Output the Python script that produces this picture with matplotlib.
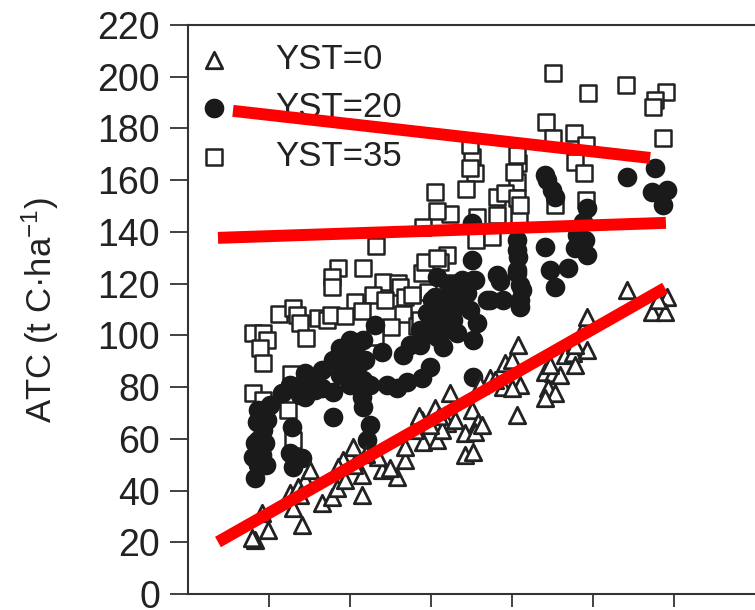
import matplotlib
matplotlib.use('Agg')
import matplotlib.pyplot as plt

plt.rcParams['font.family'] = ['Liberation Sans', 'DejaVu Sans']
plt.rcParams['mathtext.default'] = 'regular'

# YST=0
tri_x = [16.5, 15.8, 19.8, 18.3, 28.1, 25.9, 25.2, 28.9, 27.2, 33.1, 35.6, 36.8, 43.0, 43.0, 38.3, 40.7,
	37.0, 47.9, 51.6, 49.9, 53.6, 53.6, 46.9, 58.0, 61.5, 57.8, 61.0, 64.7, 64.0, 62.7, 68.4, 68.4,
	70.4, 70.1, 71.6, 70.9, 74.6, 78.3, 80.0, 81.5, 77.8, 82.0, 80.0, 81.2, 88.1, 90.1, 88.9, 90.6,
	88.1, 93.1, 95.1, 98.5, 95.6, 98.0, 98.5, 108.4, 118.3, 114.6, 117.8, 116.0,
	27.7, 30.0, 38.8, 41.0, 44.0, 56.0, 59.8, 65.9, 62.0, 57.0, 72.6, 72.0, 75.8, 95.6, 91.9, 89.4]
tri_y = [20.9, 21.7, 24.7, 31.3, 26.7, 33.3, 39.1, 44.1, 41.4, 35.2, 37.5, 41.0, 38.3, 46.0, 51.8, 56.8,
	49.1, 48.0, 45.2, 48.7, 51.8, 56.8, 53.0, 58.8, 59.6, 67.3, 71.9, 77.7, 66.1, 63.4, 62.3, 53.8,
	54.9, 71.2, 66.5, 62.6, 83.5, 89.3, 90.5, 96.3, 80.0, 80.8, 79.7, 69.2, 85.8, 85.5, 79.7, 77.7,
	75.8, 92.4, 93.2, 94.4, 88.6, 104.0, 107.1, 117.6, 114.8, 109.0, 109.0, 113.7,
	38.3, 48.0, 44.0, 50.0, 54.0, 63.4, 65.4, 67.3, 69.0, 69.0, 65.4, 80.8, 82.8, 96.3, 84.7, 88.6]

# YST=20
cir_x = [18.5, 19.5, 17.0, 18.5, 16.5, 19.0, 16.0, 18.3, 16.5, 25.7, 25.2, 28.1, 25.9, 35.8, 28.9, 23.2,
	25.9, 28.9, 33.1, 35.8, 35.8, 37.5, 42.5, 39.3, 43.2, 43.0, 43.2, 44.9, 44.2, 46.2, 43.2, 47.9,
	51.6, 49.1, 53.1, 57.3, 54.1, 57.8, 59.8, 63.0, 59.8, 63.0, 61.5, 61.5, 70.1, 81.2, 76.3,
	81.2, 70.4, 64.7, 68.9, 59.0, 62.2, 65.4, 69.6, 73.8, 77.8, 82.0, 82.5, 71.4, 70.4,
	66.4, 70.4, 70.1, 88.1, 89.9, 90.6, 88.6, 98.5, 97.5, 96.0, 98.0, 98.5, 95.6, 88.1, 93.8, 89.4,
	90.6, 108.4, 115.3, 114.6, 118.3, 117.3, 81.2, 81.5, 81.2, 70.9, 82.0, 74.6, 61.0, 64.7, 67.2,
	63.5, 57.3, 38.8, 41.2, 27.7, 31.4,
	62.2, 59.8, 54.8, 40.0, 41.2, 40.0, 43.7, 44.9, 65.9, 77.0, 82.0, 64.7, 67.7,
	60.2, 20.2, 17.3, 17.3, 17.3, 19.3, 31.4, 27.7, 25.2, 33.1, 37.5]
cir_y = [71.2, 67.3, 66.5, 63.4, 58.4, 58.4, 53.0, 53.8, 44.9, 64.6, 54.5, 52.6, 49.1, 68.4, 85.5, 77.7,
	79.7, 76.2, 79.7, 78.1, 90.5, 95.1, 89.3, 85.5, 82.8, 76.2, 72.3, 65.4, 59.6, 104.0, 98.2, 93.6,
	79.7, 80.8, 92.4, 96.3, 82.0, 83.5, 87.8, 95.5, 107.1, 104.8, 99.4, 122.6, 129.2, 133.0, 123.4,
	125.3, 121.4, 114.8, 116.4, 108.7, 108.7, 106.0, 109.8, 113.7, 113.7, 111.0, 117.6, 104.8, 98.2,
	100.9, 83.9, 143.5, 162.0, 156.2, 153.5, 160.1, 149.3, 143.9, 138.8, 136.9, 131.1, 133.8, 134.2, 126.1, 125.3,
	118.7, 161.3, 164.7, 155.5, 156.2, 150.4, 136.9, 130.3, 124.1, 121.4, 113.7, 113.7, 114.8, 109.8, 111.8,
	102.0, 102.0, 90.5, 84.7, 80.8, 82.8,
	113.7, 102.0, 96.3, 98.2, 94.4, 80.8, 90.5, 80.8, 113.7, 121.0, 119.5, 119.5, 121.4,
	113.7, 73.0, 71.0, 59.6, 49.9, 49.9, 78.9, 77.0, 80.8, 86.6, 84.7]

# YST=35
sqr_x = [90.1, 98.8, 108.1, 118.0, 115.3, 114.8, 117.3, 88.4, 90.1, 95.3, 98.3, 95.6, 97.8, 90.6, 98.3, 70.1,
	69.6, 70.9, 68.6, 81.5, 81.2, 81.2, 76.3, 78.3, 81.2, 81.7, 64.7, 71.4, 71.1, 75.1, 64.0, 62.2,
	64.2, 61.0, 61.5, 58.0, 46.4, 37.0, 35.6, 35.6, 43.2, 57.8, 48.1, 51.9, 52.3, 45.7, 53.6, 41.2,
	43.0, 53.1, 22.5, 25.9, 26.9, 27.7, 29.1, 32.1, 34.3, 35.3, 38.8, 16.0, 18.5, 19.5, 17.8, 18.5,
	25.4, 16.0, 18.5, 24.7, 25.9, 50.1, 56.5, 46.2, 59.3,
	48.6, 55.3, 58.5, 61.5, 57.3, 80.5, 69.6, 76.3, 82.0]
sqr_y = [201.5, 193.7, 196.8, 194.1, 191.0, 188.3, 176.3, 182.5, 176.3, 178.3, 173.6, 167.1, 162.8, 150.4, 152.4, 169.0,
	173.6, 162.8, 156.6, 166.7, 169.8, 159.3, 153.5, 155.1, 153.1, 146.6, 146.9, 145.8, 136.9, 138.1, 131.1, 128.4,
	120.3, 155.5, 148.1, 141.9, 134.6, 126.1, 122.6, 118.7, 126.1, 124.1, 120.6, 120.3, 118.7, 115.6, 114.8, 112.9,
	109.4, 108.3, 108.3, 110.6, 107.9, 104.8, 99.0, 106.7, 106.0, 107.9, 107.5, 100.9, 100.9, 98.2, 95.1, 89.3,
	85.1, 77.7, 75.0, 71.2, 59.6, 103.2, 103.6, 99.4, 116.8,
	113.7, 115.6, 128.4, 129.9, 106.0, 163.2, 164.7, 146.6, 150.4]

# red lines drawn over the figure
red_x = [[11.1, 114.1], [7.4, 118.0], [7.4, 117.8]]
red_y = [[186.8, 168.6], [137.7, 143.5], [20.1, 118.3]]

y_ticks = list(range(0, 221, 20))
x_ticks = [20, 40, 60, 80, 100, 120]
labels = ['YST=0', 'YST=20', 'YST=35']

ink = '#222222'

fig = plt.figure(figsize=(7.55, 6.10), dpi=100)
ax = fig.add_axes([188/755, (610-594)/610, (755-188)/755, (594-25)/610])

sq = ax.scatter(sqr_x, sqr_y, s=135, marker='s', facecolor='white', edgecolor=ink, linewidth=1.8, zorder=2)
ci = ax.scatter(cir_x, cir_y, s=200, marker='o', color='#1a1a1a', linewidth=0, zorder=3)
tr = ax.scatter(tri_x, tri_y, s=140, marker='^', facecolor='white', edgecolor=ink, linewidth=2, zorder=4)

leg = ax.legend([tr, ci, sq], labels, loc='upper left', bbox_to_anchor=(0.0, 0.99), frameon=False,
	fontsize=25, labelcolor=ink, labelspacing=0.45, handlelength=0.8, handletextpad=1.35,
	borderpad=0.15, borderaxespad=0.2)
leg.set_zorder(5)

for xs, ys in zip(red_x, red_y):
	ax.plot(xs, ys, color='#ff0000', lw=8.6, solid_capstyle='butt', zorder=6)

ax.set_xlim(0, 140)
ax.set_ylim(0, 220)
ax.set_yticks(y_ticks)
ax.set_xticks(x_ticks)
ax.set_xticklabels([])
ax.spines['right'].set_visible(False)
for s in ['left', 'top', 'bottom']:
	ax.spines[s].set_color('#333333')
	ax.spines[s].set_linewidth(1.5)
ax.tick_params(axis='y', length=13, width=1.3, color='#333333', labelsize=27, labelcolor=ink, pad=7)
ax.tick_params(axis='x', length=9.5, width=1.3, color='#333333')

fig.text(40/755, 1-310/610, 'ATC (t C·ha$^{-1}$)', rotation=90, ha='center', va='center', fontsize=25, color=ink)

fig.savefig('out.png', dpi=100)
